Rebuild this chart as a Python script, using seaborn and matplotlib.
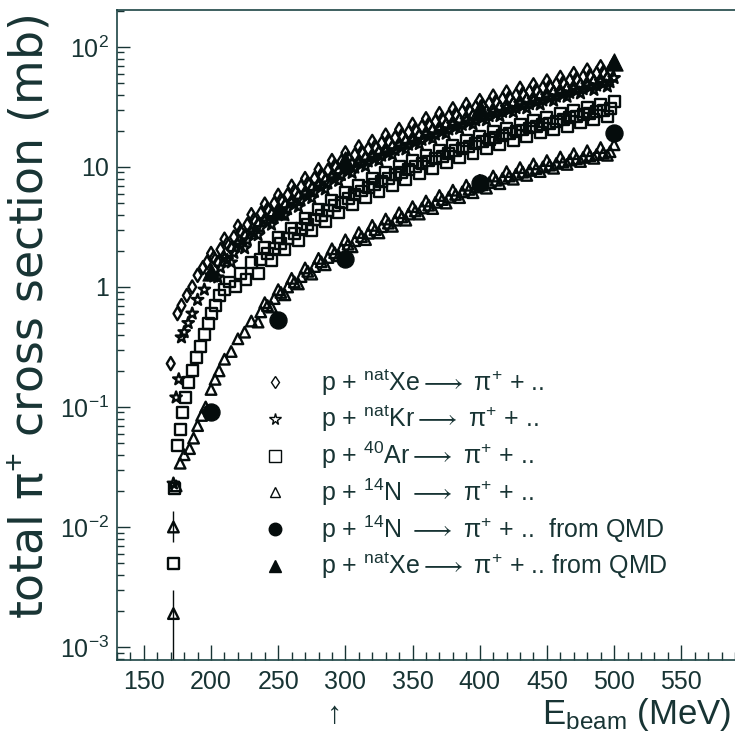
import matplotlib
matplotlib.use('Agg')
import matplotlib.pyplot as plt
from matplotlib.lines import Line2D
from matplotlib.ticker import LogLocator, NullFormatter, MultipleLocator, FixedLocator, FixedFormatter
import seaborn as sns
import pandas as pd

# ── data ────────────────────────────────────────────────
xe_e = [170, 175, 178, 182, 186, 190, 194, 197, 200, 205, 210, 215, 220, 225, 230, 235,
        240, 245, 250, 255, 260, 265, 270, 275, 280, 285, 290, 295, 300, 305, 310, 315,
        320, 325, 330, 335, 340, 345, 350, 355, 360, 365, 370, 375, 380, 385, 390, 395,
        400, 405, 410, 415, 420, 425, 430, 435, 440, 445, 450, 455, 460, 465, 470, 475,
        480, 485, 490, 495, 500]
xe_s = [0.23, 0.6, 0.7, 0.85, 1.0, 1.25, 1.45, 1.6, 1.9, 1.6, 2.5, 2.1, 3.2, 2.65, 4.0, 3.3,
        4.9, 4.0, 5.8, 4.75, 6.9, 5.6, 8.0, 6.55, 9.5, 7.65, 11.3, 9.2, 13.1, 10.5, 14.7, 11.8,
        16.3, 13.2, 18.4, 14.6, 20.5, 16.4, 22.6, 18.2, 25.2, 20.2, 27.8, 22.4, 30.5, 24.5, 33.1, 26.6,
        35.7, 28.8, 38.9, 31.3, 42.0, 33.7, 45.2, 36.2, 48.3, 38.8, 52.0, 41.7, 55.7, 44.7, 59.9, 48.0,
        64.1, 51.4, 68.3, 54.8, 73.5]
# second Xe run, between the two rows above
xe2_e = [202, 207, 212, 217, 222, 227, 232, 237, 242, 247, 252, 257, 262, 267, 272, 277,
         282, 287, 292, 297, 302, 307, 312, 317, 322, 327, 332, 337, 342, 347, 352, 357,
         362, 367, 372, 377, 382, 387, 392, 397, 402, 407, 412, 417, 422, 427, 432, 437,
         442, 447, 452, 457, 462, 467, 472, 477, 482, 487, 492, 497]
xe2_s = [1.75, 2.05, 2.3, 2.6, 2.9, 3.3, 3.65, 4.1, 4.45, 4.95, 5.3, 5.85, 6.3, 6.85, 7.3, 8.0,
         8.6, 9.4, 10.2, 11.1, 11.8, 12.6, 13.3, 14.1, 14.8, 15.8, 16.5, 17.5, 18.4, 19.5, 20.4, 21.6,
         22.7, 23.9, 25.1, 26.4, 27.5, 28.9, 29.9, 31.4, 32.3, 33.9, 35.1, 36.8, 37.9, 39.6, 40.7, 42.4,
         43.6, 45.6, 46.9, 49.0, 50.3, 52.6, 54.0, 56.3, 57.8, 60.1, 61.6, 64.0]

kr_e = [172, 174, 176, 178, 180, 183, 186, 190, 195, 200, 205, 210, 215, 220, 225, 230,
        235, 240, 245, 250, 255, 260, 265, 270, 275, 280, 285, 290, 295, 300, 305, 310,
        315, 320, 325, 330, 335, 340, 345, 350, 355, 360, 365, 370, 375, 380, 385, 390,
        395, 400, 405, 410, 415, 420, 425, 430, 435, 440, 445, 450, 455, 460, 465, 470,
        475, 480, 485, 490, 495, 500]
kr_s = [0.023, 0.12, 0.17, 0.38, 0.42, 0.5, 0.6, 0.78, 0.95, 1.25, 1.2, 1.75, 1.6, 2.3, 2.1, 2.9,
        2.7, 3.6, 3.3, 4.3, 3.95, 5.1, 4.65, 6.0, 5.5, 7.1, 6.5, 8.3, 7.65, 9.7, 8.9, 10.9,
        10.1, 12.2, 11.3, 13.6, 12.6, 15.2, 14.0, 16.8, 15.5, 18.7, 17.2, 20.6, 18.9, 22.6, 20.8, 24.6,
        22.6, 26.7, 24.5, 28.9, 26.5, 31.2, 28.6, 33.7, 30.8, 36.2, 33.1, 39.0, 35.6, 42.0, 38.4, 45.0,
        41.0, 48.2, 43.8, 51.5, 46.8, 55.0]
kr2_e = xe2_e
kr2_s = [1.22, 1.45, 1.68, 1.92, 2.2, 2.45, 2.8, 3.1, 3.45, 3.75, 4.1, 4.45, 4.85, 5.25, 5.7, 6.2,
         6.75, 7.3, 7.9, 8.55, 9.2, 9.85, 10.5, 11.1, 11.7, 12.4, 13.0, 13.8, 14.5, 15.3, 16.0, 16.8,
         17.8, 18.6, 19.6, 20.5, 21.5, 22.4, 23.5, 24.4, 25.5, 26.5, 27.6, 28.7, 29.8, 30.9, 32.1, 33.3,
         34.5, 35.8, 37.2, 38.5, 40.0, 41.4, 43.0, 44.4, 46.0, 47.6, 49.2, 50.8]

ar_e = [172, 173, 175, 177, 179, 181, 183, 186, 189, 192, 195, 198, 200, 203, 206, 210,
        214, 218, 222, 226, 230, 235, 240, 245, 250, 255, 260, 265, 270, 275, 280, 285,
        290, 295, 300, 305, 310, 315, 320, 325, 330, 335, 340, 345, 350, 355, 360, 365,
        370, 375, 380, 385, 390, 395, 400, 405, 410, 415, 420, 425, 430, 435, 440, 445,
        450, 455, 460, 465, 470, 475, 480, 485, 490, 495, 500]
ar_s = [0.005, 0.021, 0.048, 0.065, 0.09, 0.12, 0.16, 0.2, 0.26, 0.32, 0.4, 0.5, 0.6, 0.7, 0.85, 0.95,
        1.1, 1.0, 1.3, 1.15, 1.6, 1.3, 2.15, 1.65, 2.6, 2.05, 3.1, 2.45, 3.7, 2.95, 4.4, 3.5,
        5.3, 4.15, 6.1, 4.85, 7.0, 5.55, 8.0, 6.25, 9.0, 7.05, 10.1, 7.9, 11.3, 8.8, 12.5, 9.75,
        13.8, 10.8, 15.2, 11.9, 16.6, 13.0, 18.1, 14.2, 19.6, 15.4, 21.1, 16.6, 22.7, 17.9, 24.3, 19.2,
        26.0, 20.5, 27.7, 21.9, 29.5, 23.3, 31.3, 24.8, 33.2, 26.3, 35.0]
ar2_e = xe2_e[7:]
ar2_s = [1.7, 1.9, 2.1, 2.3, 2.55, 2.8, 3.05, 3.3, 3.65, 3.95, 4.35, 4.75, 5.1, 5.5, 5.9, 6.3,
         6.7, 7.1, 7.6, 8.0, 8.6, 9.0, 9.6, 10.1, 10.6, 11.2, 11.8, 12.3, 13.0, 13.6, 14.3, 14.9,
         15.6, 16.2, 16.9, 17.5, 18.3, 18.9, 19.7, 20.3, 21.1, 21.8, 22.6, 23.2, 24.1, 24.8, 25.7, 26.4,
         27.4, 28.0, 29.0, 29.7, 30.7]

n_e = [172, 172, 174, 177, 180, 184, 187, 190, 193, 196, 200, 203, 206, 210, 215, 220,
       225, 230, 235, 240, 245, 250, 255, 260, 265, 270, 275, 280, 285, 290, 295, 300,
       305, 310, 315, 320, 325, 330, 335, 340, 345, 350, 355, 360, 365, 370, 375, 380,
       385, 390, 395, 400, 405, 410, 415, 420, 425, 430, 435, 440, 445, 450, 455, 460,
       465, 470, 475, 480, 485, 490, 495, 500]
n_s = [0.0019, 0.010, 0.022, 0.034, 0.04, 0.045, 0.055, 0.07, 0.085, 0.1, 0.14, 0.17, 0.2, 0.25, 0.29, 0.37,
       0.42, 0.52, 0.51, 0.74, 0.68, 0.95, 0.86, 1.18, 1.06, 1.44, 1.28, 1.73, 1.53, 2.08, 1.82, 2.47,
       2.16, 2.84, 2.48, 3.26, 2.82, 3.68, 3.2, 4.15, 3.6, 4.67, 4.05, 5.2, 4.5, 5.78, 5.0, 6.4,
       5.55, 7.04, 6.1, 7.72, 6.65, 8.4, 7.25, 9.14, 7.9, 9.87, 8.5, 10.6, 9.15, 11.3, 9.75, 12.1,
       10.5, 12.9, 11.1, 13.65, 11.8, 14.5, 12.5, 15.3]
n2_e = xe2_e[7:]
n2_s = [0.62, 0.7, 0.8, 0.9, 1.0, 1.1, 1.22, 1.35, 1.48, 1.62, 1.76, 1.93, 2.08, 2.27, 2.43, 2.63,
        2.8, 3.0, 3.18, 3.4, 3.6, 3.83, 4.05, 4.3, 4.55, 4.8, 5.07, 5.35, 5.6, 5.9, 6.2, 6.5,
        6.8, 7.1, 7.4, 7.75, 8.05, 8.4, 8.7, 9.05, 9.35, 9.7, 10.0, 10.35, 10.7, 11.0, 11.4, 11.7,
        12.0, 12.4, 12.7, 13.0, 13.4]

# error bars on the two lowest 14N points (lower, upper edges)
n_err_e = [172, 172]
n_err_s = [0.0019, 0.010]
n_err_lo = [0.0005, 0.0075]
n_err_hi = [0.0030, 0.0135]

qmd_n_e = [200, 250, 300, 400, 500]
qmd_n_s = [0.09, 0.53, 1.72, 7.4, 19.2]
qmd_xe_e = [200, 250, 300, 400, 500]
qmd_xe_s = [1.32, 4.3, 11.5, 31.0, 75.0]

labels = [
    r"p + $^{\rm nat}$Xe$\longrightarrow$ π$^{+}$ + ..",
    r"p + $^{\rm nat}$Kr$\longrightarrow$ π$^{+}$ + ..",
    r"p + $^{40}$Ar$\longrightarrow$ π$^{+}$ + ..",
    r"p + $^{14}$N $\longrightarrow$ π$^{+}$ + ..",
    r"p + $^{14}$N $\longrightarrow$ π$^{+}$ + ..  from QMD",
    r"p + $^{\rm nat}$Xe$\longrightarrow$ π$^{+}$ + .. from QMD",
]

xticks = [150, 200, 250, 300, 350, 400, 450, 500, 550]
yticks = [1e-3, 1e-2, 1e-1, 1, 10, 100]
yticklabels = [r"$10^{-3}$", r"$10^{-2}$", r"$10^{-1}$", "1", "10", r"$10^{2}$"]

# ── style ───────────────────────────────────────────────
INK = '#050c0c'
TXT = '#183434'
sns.set_style('ticks')
plt.rcParams.update({
    'font.family': ['Liberation Sans', 'DejaVu Sans'],
    'mathtext.fontset': 'custom',
    'mathtext.rm': 'Liberation Sans',
    'mathtext.it': 'Liberation Sans:italic',
    'mathtext.bf': 'Liberation Sans:bold',
    'text.color': TXT,
    'axes.labelcolor': TXT,
    'xtick.color': TXT,
    'ytick.color': TXT,
    'axes.edgecolor': '#1d4444',
})

fig = plt.figure(figsize=(7.35, 7.33), dpi=100)
ax = fig.add_axes([117 / 735, 73 / 733, 618 / 735, 650 / 733])

open_kw = dict(facecolor='none', linewidth=1.7, edgecolor=INK, legend=False, ax=ax)
for xs, ys in ((xe_e, xe_s), (xe2_e, xe2_s)):
    sns.scatterplot(x=xs, y=ys, marker='d', s=45, **open_kw)
for xs, ys in ((kr_e, kr_s), (kr2_e, kr2_s)):
    sns.scatterplot(x=xs, y=ys, marker='*', s=75, **open_kw)
for xs, ys in ((ar_e, ar_s), (ar2_e, ar2_s)):
    sns.scatterplot(x=xs, y=ys, marker='s', s=62, **open_kw)
for xs, ys in ((n_e, n_s), (n2_e, n2_s)):
    sns.scatterplot(x=xs, y=ys, marker='^', s=58, **open_kw)

err = pd.DataFrame({'e': n_err_e, 's': n_err_s, 'lo': n_err_lo, 'hi': n_err_hi})
ax.errorbar(err['e'], err['s'], yerr=[err['s'] - err['lo'], err['hi'] - err['s']],
            fmt='none', ecolor=INK, elinewidth=1.0, capsize=0, zorder=1)

sns.scatterplot(x=qmd_n_e, y=qmd_n_s, marker='o', s=150, color=INK, edgecolor=INK,
                legend=False, ax=ax, zorder=5)
sns.scatterplot(x=qmd_xe_e, y=qmd_xe_s, marker='^', s=150, color=INK, edgecolor=INK,
                legend=False, ax=ax, zorder=5)

ax.set_yscale('log')
ax.set_xlim(130, 590)
ax.set_ylim(7.8e-4, 203)

ax.xaxis.set_major_locator(FixedLocator(xticks))
ax.xaxis.set_minor_locator(MultipleLocator(10))
ax.yaxis.set_major_locator(FixedLocator(yticks))
ax.yaxis.set_major_formatter(FixedFormatter(yticklabels))
ax.yaxis.set_minor_locator(LogLocator(base=10, subs=range(2, 10)))
ax.yaxis.set_minor_formatter(NullFormatter())
ax.tick_params(axis='both', which='both', direction='in', labelsize=18)
ax.tick_params(axis='x', which='major', length=11, width=1.0, pad=7)
ax.tick_params(axis='x', which='minor', length=6, width=1.0)
ax.tick_params(axis='y', which='major', length=9, width=1.0, pad=6)
ax.tick_params(axis='y', which='minor', length=5, width=1.0)
ax.spines['right'].set_visible(False)
for side in ('left', 'bottom', 'top'):
    ax.spines[side].set_linewidth(1.2)

ax.set_ylabel("total π$^{+}$ cross section (mb)", fontsize=33,
              fontfamily=['DejaVu Sans'])
ax.yaxis.set_label_coords(-0.14, 0.528)
ax.yaxis.label.set_va('center')
ax.set_xlabel(r"E$_{\rm beam}$ (MeV)", fontsize=25)
ax.xaxis.set_label_coords(0.994, -0.084)
ax.xaxis.label.set_ha('right')
ax.xaxis.label.set_va('center')

ax.annotate("↑", xy=(292, -0.085), xycoords=('data', 'axes fraction'),
            ha='center', va='center', fontsize=22, color=TXT,
            annotation_clip=False)

handles = [
    Line2D([], [], ls='none', marker='d', ms=6.5, mfc='none', mec=INK, mew=1.0),
    Line2D([], [], ls='none', marker='*', ms=8.5, mfc='none', mec=INK, mew=1.0),
    Line2D([], [], ls='none', marker='s', ms=8, mfc='none', mec=INK, mew=1.0),
    Line2D([], [], ls='none', marker='^', ms=7.5, mfc='none', mec=INK, mew=1.0),
    Line2D([], [], ls='none', marker='o', ms=9, mfc=INK, mec=INK),
    Line2D([], [], ls='none', marker='^', ms=9, mfc=INK, mec=INK),
]
leg = ax.legend(handles, labels, loc='upper left', bbox_to_anchor=(0.235, 0.45),
                frameon=False, fontsize=18, labelspacing=0.22, handlelength=1.0,
                handletextpad=1.35, borderpad=0, borderaxespad=0)
for t in leg.get_texts():
    t.set_color(TXT)

fig.savefig('out.png', dpi=100)
